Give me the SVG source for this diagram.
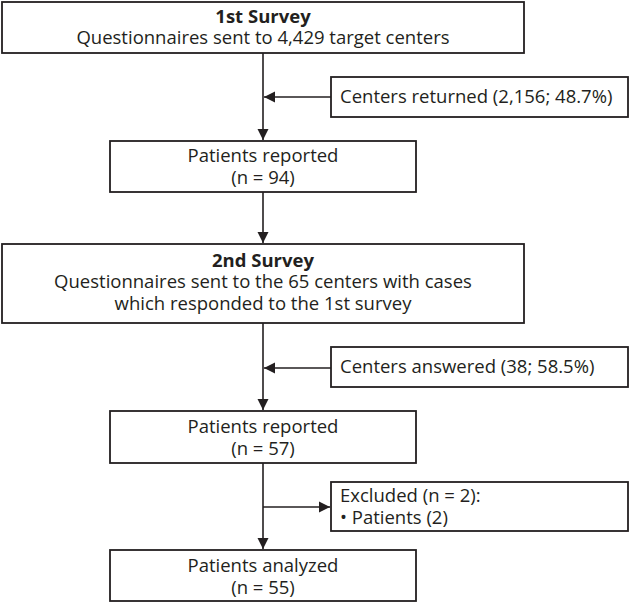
<svg xmlns="http://www.w3.org/2000/svg" width="630" height="604" viewBox="0 0 630 604">
<style>
.box{fill:#fff;stroke:#231f20;stroke-width:1.8}
.t{font-family:"Open Sans","Noto Sans",sans-serif;font-size:18.5px;fill:#231f20}
.c{text-anchor:middle}
.b{font-weight:bold}
.ln{stroke:#231f20;stroke-width:1.6;fill:none}
</style>
<defs>
<marker id="ah" markerUnits="userSpaceOnUse" markerWidth="12" markerHeight="12" viewBox="0 0 12 12" refX="11" refY="6" orient="auto">
<path d="M0,0.5 L11,6 L0,11.5 Z" fill="#231f20"/>
</marker>
</defs>
<g id="connectors">
<line class="ln" x1="263" y1="53" x2="263" y2="140" marker-end="url(#ah)"/>
<line class="ln" x1="331" y1="97" x2="264" y2="97" marker-end="url(#ah)"/>
<line class="ln" x1="263" y1="192" x2="263" y2="243" marker-end="url(#ah)"/>
<line class="ln" x1="263" y1="323" x2="263" y2="410" marker-end="url(#ah)"/>
<line class="ln" x1="331" y1="368" x2="264" y2="368" marker-end="url(#ah)"/>
<line class="ln" x1="263" y1="463" x2="263" y2="549" marker-end="url(#ah)"/>
<line class="ln" x1="263" y1="507" x2="330" y2="507" marker-end="url(#ah)"/>
</g>
<g id="survey1">
<rect class="box" x="2" y="2" width="522" height="51"/>
<text class="t c b" x="263" y="23">1st Survey</text>
<text class="t c" x="263" y="44">Questionnaires sent to 4,429 target centers</text>
</g>
<g id="returned">
<rect class="box" x="331" y="77" width="297" height="40"/>
<text class="t" x="340" y="103">Centers returned (2,156; 48.7%)</text>
</g>
<g id="reported1">
<rect class="box" x="110" y="141" width="306" height="51"/>
<text class="t c" x="263" y="162">Patients reported</text>
<text class="t c" x="263" y="184">(n = 94)</text>
</g>
<g id="survey2">
<rect class="box" x="2" y="244" width="522" height="79"/>
<text class="t c b" x="263" y="267">2nd Survey</text>
<text class="t c" x="263" y="288">Questionnaires sent to the 65 centers with cases</text>
<text class="t c" x="263" y="310">which responded to the 1st survey</text>
</g>
<g id="answered">
<rect class="box" x="331" y="347" width="297" height="40"/>
<text class="t" x="340" y="373">Centers answered (38; 58.5%)</text>
</g>
<g id="reported2">
<rect class="box" x="110" y="411" width="306" height="52"/>
<text class="t c" x="263" y="433">Patients reported</text>
<text class="t c" x="263" y="455">(n = 57)</text>
</g>
<g id="excluded">
<rect class="box" x="331" y="482" width="297" height="49"/>
<text class="t" x="340" y="502">Excluded (n = 2):</text>
<text class="t" x="340" y="524">• Patients (2)</text>
</g>
<g id="analyzed">
<rect class="box" x="110" y="550" width="306" height="51"/>
<text class="t c" x="263" y="572">Patients analyzed</text>
<text class="t c" x="263" y="594">(n = 55)</text>
</g>
</svg>
